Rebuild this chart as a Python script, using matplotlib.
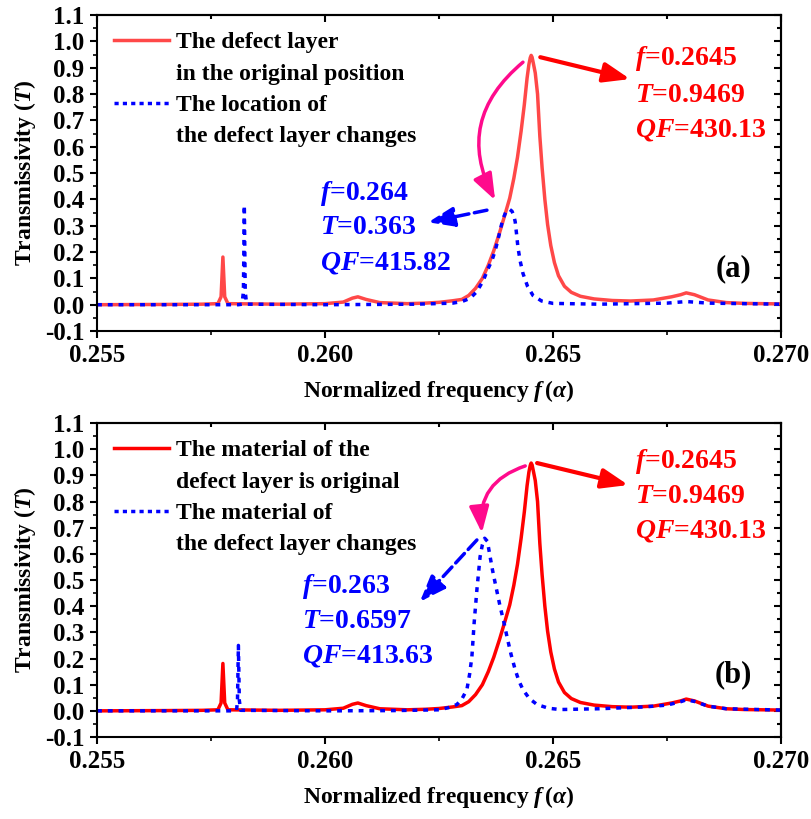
import numpy as np
import matplotlib
matplotlib.use('Agg')
import matplotlib.pyplot as plt
from matplotlib.lines import Line2D
from matplotlib.ticker import MultipleLocator

# defect layer in the original position / original material (same curve in both panels)
freq_orig = [0.2550, 0.2565, 0.2573, 0.25765, 0.25772, 0.25776, 0.25780, 0.25787,
             0.2590, 0.2600, 0.2604, 0.2606, 0.26072, 0.2609, 0.2612, 0.2618,
             0.2622, 0.2625, 0.2628, 0.2630, 0.26315, 0.26330, 0.26345, 0.26358,
             0.26370, 0.26383, 0.26395, 0.26405, 0.26414, 0.26422, 0.26430, 0.26437,
             0.26443, 0.26447, 0.26450, 0.26452, 0.26454, 0.26457, 0.26461, 0.26466,
             0.26471, 0.26476, 0.26482, 0.26488, 0.26495, 0.26503, 0.26512, 0.26525,
             0.26540, 0.26560, 0.26590, 0.2663, 0.2667, 0.2672, 0.2676, 0.2678,
             0.26792, 0.2681, 0.2684, 0.2688, 0.2692, 0.2700]
trans_orig = [0.000, 0.001, 0.002, 0.004, 0.030, 0.181, 0.030, 0.004,
              0.002, 0.004, 0.010, 0.025, 0.030, 0.020, 0.008, 0.004,
              0.006, 0.009, 0.015, 0.020, 0.035, 0.062, 0.100, 0.150,
              0.205, 0.275, 0.345, 0.405, 0.480, 0.560, 0.660, 0.760,
              0.860, 0.912, 0.938, 0.9469, 0.940, 0.915, 0.880, 0.800,
              0.640, 0.520, 0.400, 0.305, 0.225, 0.160, 0.110, 0.070,
              0.047, 0.032, 0.022, 0.016, 0.014, 0.018, 0.030, 0.038,
              0.045, 0.038, 0.018, 0.008, 0.005, 0.003]

# (a) location of the defect layer changes
freq_loc = [0.2550, 0.2581, 0.25818, 0.25821, 0.25823, 0.25825, 0.25828, 0.2600,
            0.2620, 0.2628, 0.2630, 0.26318, 0.26333, 0.26347, 0.26357, 0.26366,
            0.26373, 0.26379, 0.26385, 0.26390, 0.26396, 0.26404, 0.26410, 0.26414,
            0.26417, 0.26420, 0.26423, 0.26428, 0.26434, 0.26444, 0.26456, 0.26475,
            0.26500, 0.2660, 0.2675, 0.26792, 0.2684, 0.2700]
trans_loc = [0.000, 0.000, 0.002, 0.050, 0.378, 0.050, 0.002, 0.000,
             0.002, 0.006, 0.012, 0.024, 0.050, 0.092, 0.135, 0.168,
             0.205, 0.245, 0.290, 0.325, 0.350, 0.363, 0.355, 0.338,
             0.315, 0.268, 0.218, 0.165, 0.119, 0.070, 0.035, 0.014,
             0.005, 0.002, 0.006, 0.012, 0.006, 0.002]

# (b) material of the defect layer changes
freq_mat = [0.2550, 0.2580, 0.25806, 0.25808, 0.25810, 0.25812, 0.25815, 0.2600,
            0.2615, 0.2625, 0.2627, 0.26289, 0.26300, 0.26311, 0.26317, 0.26322,
            0.26327, 0.26333, 0.26340, 0.26345, 0.26350, 0.26356, 0.26362, 0.26367,
            0.26373, 0.26384, 0.26392, 0.26399, 0.26408, 0.26417, 0.26425, 0.26434,
            0.26448, 0.26465, 0.26490, 0.26515, 0.2660, 0.2670, 0.2675, 0.2678,
            0.26792, 0.2681, 0.2684, 0.2688, 0.2700]
trans_mat = [0.000, 0.000, 0.002, 0.040, 0.250, 0.040, 0.002, 0.000,
             0.001, 0.004, 0.012, 0.024, 0.045, 0.081, 0.140, 0.207,
             0.337, 0.463, 0.589, 0.635, 0.6597, 0.648, 0.589, 0.540,
             0.489, 0.398, 0.340, 0.283, 0.215, 0.157, 0.115, 0.081,
             0.047, 0.024, 0.010, 0.005, 0.008, 0.015, 0.022, 0.035,
             0.042, 0.036, 0.018, 0.008, 0.003]

labels_a = ['The defect layer', 'in the original position',
            'The location of', 'the defect layer changes']
labels_b = ['The material of the', 'defect layer is original',
            'The material of', 'the defect layer changes']

orig_text = ['$f$=0.2645', '$T$=0.9469', '$QF$=430.13']
loc_text = ['$f$=0.264', '$T$=0.363', '$QF$=415.82']
mat_text = ['$f$=0.263', '$T$=0.6597', '$QF$=413.63']

plt.rcParams.update({
    'font.family': 'Liberation Serif',
    'font.weight': 'bold',
    'axes.labelweight': 'bold',
    'mathtext.fontset': 'custom',
    'mathtext.rm': 'Liberation Serif:bold',
    'mathtext.it': 'Liberation Serif:italic:bold',
    'mathtext.bf': 'Liberation Serif:bold',
    'axes.linewidth': 1.5,
})

fig = plt.figure(figsize=(8.12, 8.19), dpi=100)
ax_a = fig.add_axes([0.1195, 0.5958, 0.8424, 0.3858])
ax_b = fig.add_axes([0.1195, 0.1001, 0.8424, 0.3834])

blue_dots = (0, (1.4, 1.7))


def head(color, ls='-', lw=2.5):
    return dict(arrowstyle='-|>,head_length=0.8,head_width=0.3', color=color,
                lw=lw, ls=ls, mutation_scale=20, shrinkA=0, shrinkB=0)


def setup(ax, tag):
    ax.set_xlim(0.255, 0.270)
    ax.set_ylim(-0.1, 1.1)
    ax.set_xticks([0.255, 0.260, 0.265, 0.270])
    ax.set_xticklabels(['0.255', '0.260', '0.265', '0.270'])
    ax.xaxis.set_minor_locator(MultipleLocator(0.0025))
    yt = np.round(np.arange(-0.1, 1.11, 0.1), 1)
    ax.set_yticks(yt)
    ax.set_yticklabels([f'{v:.1f}' for v in yt])
    ax.yaxis.set_minor_locator(MultipleLocator(0.05))
    ax.tick_params(which='major', direction='out', length=5, width=1.5,
                   labelsize=18, pad=4)
    ax.tick_params(which='minor', direction='out', length=3, width=1.2)
    top = ax.secondary_xaxis('top')
    top.set_xticks([0.255, 0.260, 0.265, 0.270])
    top.xaxis.set_minor_locator(MultipleLocator(0.0025))
    top.tick_params(which='both', direction='in', labeltop=False, width=1.5)
    top.tick_params(which='major', length=5)
    top.tick_params(which='minor', length=3)
    right = ax.secondary_yaxis('right')
    right.yaxis.set_major_locator(MultipleLocator(0.1))
    right.yaxis.set_minor_locator(MultipleLocator(0.05))
    right.tick_params(which='both', direction='in', labelright=False, width=1.5)
    right.tick_params(which='major', length=5)
    right.tick_params(which='minor', length=3)
    ax.set_xlabel(r'Normalized frequency $f\,(\alpha)$', fontsize=17, labelpad=8)
    ax.set_ylabel(r'Transmissivity ($T$)', fontsize=17, labelpad=5)
    ax.text(0.26895, 0.138, tag, fontsize=22, ha='center', va='center')


def legend(ax, labels, red_color):
    handles = [Line2D([], [], color=red_color, lw=2.5),
               Line2D([], [], color='none'),
               Line2D([], [], color='blue', lw=2.5, ls=(0, (1.2, 1.2))),
               Line2D([], [], color='none')]
    ax.legend(handles, labels, loc='upper left', bbox_to_anchor=(0.008, 0.985),
              frameon=False, fontsize=17, handlelength=2.3, handletextpad=0.3,
              labelspacing=0.42, borderaxespad=0.4, borderpad=0.1)


def stack(ax, x, ys, texts, color, size=20):
    for y, s in zip(ys, texts):
        ax.text(x, y, s, color=color, fontsize=size, va='baseline', ha='left')


# ---- panel (a)
red_a = '#FF4848'
ax_a.plot(freq_orig, trans_orig, color=red_a, lw=2.5)
ax_a.plot(freq_loc, trans_loc, color='blue', lw=2.5, ls=blue_dots)
setup(ax_a, '(a)')
legend(ax_a, labels_a, red_a)
ax_a.annotate('', xy=(0.26669, 0.857), xytext=(0.26472, 0.940), arrowprops=head('red', lw=3))
ax_a.annotate('', xy=(0.26373, 0.397), xytext=(0.26434, 0.921),
              arrowprops=dict(head('#FF0A8C'), connectionstyle='arc3,rad=0.4'))
ax_a.annotate('', xy=(0.26226, 0.313), xytext=(0.26355, 0.359), arrowprops=head('blue', ls='--'))
stack(ax_a, 0.26680, [0.910, 0.771, 0.638], orig_text, 'red')
stack(ax_a, 0.25990, [0.399, 0.267, 0.133], loc_text, 'blue')

# ---- panel (b)
ax_b.plot(freq_orig, trans_orig, color='red', lw=2.5)
ax_b.plot(freq_mat, trans_mat, color='blue', lw=2.5, ls=blue_dots)
setup(ax_b, '(b)')
legend(ax_b, labels_b, 'red')
ax_b.annotate('', xy=(0.26665, 0.863), xytext=(0.26465, 0.947), arrowprops=head('red', lw=3))
ax_b.annotate('', xy=(0.26344, 0.680), xytext=(0.26439, 0.936),
              arrowprops=dict(head('#FF0A8C'), connectionstyle='arc3,rad=0.4'))
ax_b.annotate('', xy=(0.26208, 0.417), xytext=(0.26333, 0.653), arrowprops=head('blue', ls='--'))
stack(ax_b, 0.26680, [0.928, 0.796, 0.661], orig_text, 'red')
stack(ax_b, 0.25950, [0.452, 0.316, 0.183], mat_text, 'blue')

fig.savefig('out.png', dpi=100)
